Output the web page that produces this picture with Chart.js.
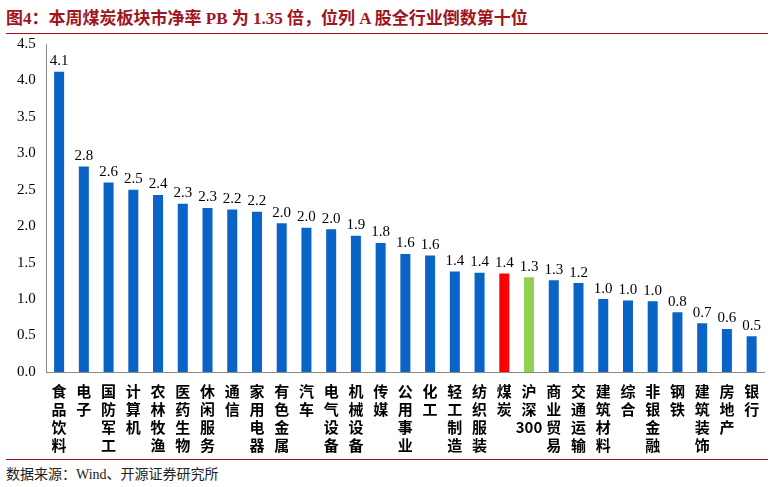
<!DOCTYPE html>
<html>
<head>
<meta charset="utf-8">
<script src="https://cdn.jsdelivr.net/npm/chart.js@4"></script>
<style>
body { margin: 0; background: #fff; width: 774px; height: 487px; overflow: hidden; font-family: "Liberation Serif", "Noto Sans CJK SC", serif; }
#title { position: absolute; left: 6px; top: 4px; width: 762px; font-size: 17px; font-weight: bold; color: #a0141e; border-bottom: 1px solid #a0141e; padding-bottom: 4px; }
#box { position: absolute; left: 0; top: 32px; width: 774px; height: 426px; }
#src { position: absolute; left: 6px; top: 459px; width: 762px; font-size: 14px; color: #222; border-top: 1px solid #a0141e; padding-top: 3px; }
</style>
</head>
<body>
<div id="title">图4：本周煤炭板块市净率 PB 为 1.35 倍，位列 A 股全行业倒数第十位</div>
<div id="box"><canvas id="chart"></canvas></div>
<div id="src">数据来源：Wind、开源证券研究所</div>
<script>
const categories = ['食品饮料','电子','国防军工','计算机','农林牧渔','医药生物','休闲服务','通信','家用电器','有色金属','汽车','电气设备','机械设备','传媒','公用事业','化工','轻工制造','纺织服装','煤炭','沪深300','商业贸易','交通运输','建筑材料','综合','非银金融','钢铁','建筑装饰','房地产','银行'];
const pbValues = [4.12, 2.82, 2.6, 2.5, 2.43, 2.31, 2.25, 2.23, 2.2, 2.04, 1.98, 1.96, 1.87, 1.77, 1.62, 1.6, 1.38, 1.36, 1.35, 1.3, 1.26, 1.22, 1.0, 0.98, 0.97, 0.82, 0.67, 0.59, 0.49];
const yTicks = [0, 0.5, 1, 1.5, 2, 2.5, 3, 3.5, 4, 4.5];

const colors = categories.map(c => c === '煤炭' ? '#ff0000' : c === '沪深300' ? '#92d050' : '#0a64c8');
const labels = categories.map(c => c === '沪深300' ? ['沪', '深', '300'] : c.split(''));

const valueLabels = {
    id: 'valueLabels',
    afterDatasetsDraw(chart) {
        const ctx = chart.ctx;
        ctx.save();
        ctx.font = '15px "Liberation Serif"';
        ctx.fillStyle = '#000';
        ctx.textAlign = 'center';
        ctx.textBaseline = 'bottom';
        chart.getDatasetMeta(0).data.forEach((bar, i) => {
            ctx.fillText(pbValues[i].toFixed(1), bar.x, bar.y - 3);
        });
        ctx.restore();
    }
};

const ctx = document.getElementById('chart').getContext('2d');
new Chart(ctx, {
    type: 'bar',
    data: {
        labels: labels,
        datasets: [{ data: pbValues, backgroundColor: colors, categoryPercentage: 0.9, barPercentage: 0.45 }]
    },
    options: {
        responsive: true,
        maintainAspectRatio: false,
        animation: false,
        layout: { padding: { left: 14, right: 10, top: 5, bottom: 2 } },
        plugins: { legend: { display: false }, tooltip: { enabled: false } },
        scales: {
            x: {
                grid: { display: false, drawTicks: true },
                border: { color: '#888' },
                ticks: { color: '#000', maxRotation: 0, minRotation: 0, autoSkip: false, font: { size: 15, family: '"Noto Sans CJK SC"', weight: 'bold', lineHeight: 1.2 }, padding: 2 }
            },
            y: {
                min: 0, max: 4.5,
                afterBuildTicks: axis => { axis.ticks = yTicks.map(v => ({ value: v })); },
                grid: { display: false },
                border: { color: '#888' },
                ticks: { color: '#000', font: { size: 15, family: '"Liberation Serif"' }, callback: v => v.toFixed(1) }
            }
        }
    },
    plugins: [valueLabels]
});
</script>
</body>
</html>
